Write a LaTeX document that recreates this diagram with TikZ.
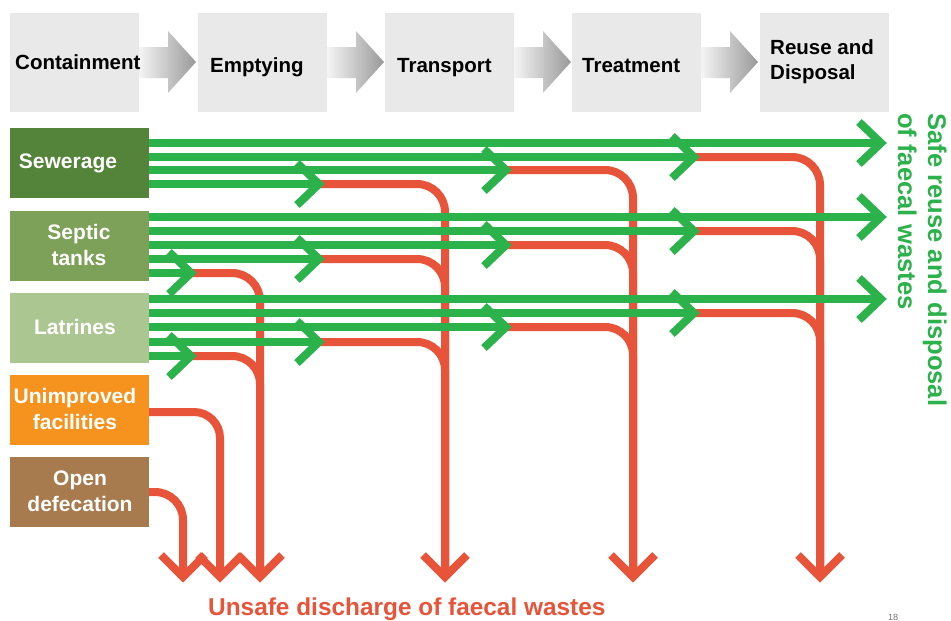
\documentclass[tikz,border=0pt]{standalone}
\usepackage{fontspec}
\setmainfont{Liberation Sans}
\usetikzlibrary{calc,positioning}

\definecolor{flowgreen}{RGB}{44,178,74}
\definecolor{flowred}{RGB}{232,84,58}
\definecolor{sewgreen}{RGB}{84,131,58}
\definecolor{sepgreen}{RGB}{125,161,88}
\definecolor{latgreen}{RGB}{172,198,146}
\definecolor{unorange}{RGB}{246,146,30}
\definecolor{odbrown}{RGB}{168,123,78}
\definecolor{stagegrey}{RGB}{233,233,233}

\tikzset{
	flowg/.style={draw=flowgreen, line width=8pt},
	flowr/.style={draw=flowred, line width=8pt, rounded corners=28pt},
	stagebox/.style={fill=stagegrey, minimum width=129pt, minimum height=99pt, inner sep=0pt},
	stagetxt/.style={font=\fontsize{20.5}{25}\selectfont\bfseries, inner sep=0pt, anchor=base west},
	srcbox/.style={minimum width=139pt, minimum height=70pt, inner sep=0pt},
	srctxt/.style={text=white, font=\fontsize{21}{26}\selectfont\bfseries, align=center, inner sep=0pt},
	safetxt/.style={text=flowgreen, font=\fontsize{25.6}{30}\selectfont\bfseries, rotate=-90, anchor=base west, inner sep=0pt}
}

% open chevrons: green pointing right, red pointing down
\def\gtip(#1,#2){\draw[flowg] (#1-28,#2-21) -- (#1-6,#2) -- (#1-28,#2+21);}
\def\rtip(#1){\draw[draw=flowred, line width=8pt] (#1-22,555) -- (#1,577) -- (#1+22,555);}

\begin{document}
\begin{tikzpicture}[x=1pt, y=-1pt]
		%%%%% START %%%%%
		\useasboundingbox (0,0) rectangle (951,621);
		\fill[white] (0,0) rectangle (951,621);
		
		% stages of the chain
		\node[stagebox] (cont) at (74.5,62.5) {};
		\node[stagebox] (empt) at (262.5,62.5) {};
		\node[stagebox] (trans) at (449.5,62.5) {};
		\node[stagebox] (treat) at (636.5,62.5) {};
		\node[stagebox] (reuse) at (824.5,62.5) {};
		
		\foreach \x in {139,327,514,701}
			\shade[left color=black!4, right color=black!40] (\x,47) -- (\x+29,47) -- (\x+29,31) -- (\x+57,62) -- (\x+29,93) -- (\x+29,78) -- (\x,78) -- cycle;
		
		\node[stagetxt] (contlbl) at (15,69) {Containment};
		\node[stagetxt] (emptlbl) at (210,72) {Emptying};
		\node[stagetxt] (translbl) at (397,72) {Transport};
		\node[stagetxt] (treatlbl) at (582,72) {Treatment};
		\node[stagetxt, anchor=west, align=left] (reuselbl) at (770,62) {Reuse and\\Disposal};
		
		% sources
		\node[srcbox, fill=sewgreen] (sew) at (79.5,163) {};
		\node[srcbox, fill=sepgreen] (sep) at (79.5,246) {};
		\node[srcbox, fill=latgreen] (lat) at (79.5,328) {};
		\node[srcbox, fill=unorange] (unimp) at (79.5,410) {};
		\node[srcbox, fill=odbrown] (open) at (79.5,492) {};
		
		\node[srctxt] (sewlbl) at (68,163) {Sewerage};
		\node[srctxt] (seplbl) at (79,245) {Septic\\tanks};
		\node[srctxt] (latlbl) at (75,327) {Latrines};
		\node[srctxt] (unimplbl) at (75,409) {Unimproved\\facilities};
		\node[srctxt] (openlbl) at (80,491) {Open\\defecation};
		
		% unsafe flows
		\foreach \y in {273,356} \draw[flowr] (191,\y) -- (260,\y) -- (260,577);
		\foreach \y in {184,259,342} \draw[flowr] (319,\y) -- (445,\y) -- (445,577);
		\foreach \y in {170,245,327} \draw[flowr] (506,\y) -- (633,\y) -- (633,577);
		\foreach \y in {157,231,313} \draw[flowr] (694,\y) -- (820,\y) -- (820,577);
		\draw[flowr, rounded corners=26pt] ([yshift=-2pt]unimp.east) -- (220,412) -- (220,577);
		\draw[flowr, rounded corners=28pt] (open.east) -- (183,492) -- (183,577);
		\foreach \x in {183,220,260,445,633,820} \rtip(\x);
		
		% safe flows
		\foreach \y in {143,217,299} {
			\draw[flowg] (149,\y) -- (881,\y);
			\gtip(887,\y)
		}
		\foreach \y/\x in {157/700,170/512,184/325,231/700,245/512,259/325,273/197,313/700,327/512,342/325,356/197} {
			\draw[flowg] (149,\y) -- (\x-6,\y);
			\gtip(\x,\y)
		}
		
		\node[safetxt] (safe) at (928,113) {Safe reuse and disposal};
		\node[safetxt] (faecal) at (898,113) {of faecal wastes};
		\node[anchor=base west, text=flowred, font=\fontsize{24.4}{28}\selectfont\bfseries, inner sep=0pt] (unsafe) at (208,615) {Unsafe discharge of faecal wastes};
		\node[anchor=base, text=black!55, font=\fontsize{9}{10}\selectfont, inner sep=0pt] (pgno) at (893,620) {18};
		%%%%% END %%%%%
\end{tikzpicture}
\end{document}
